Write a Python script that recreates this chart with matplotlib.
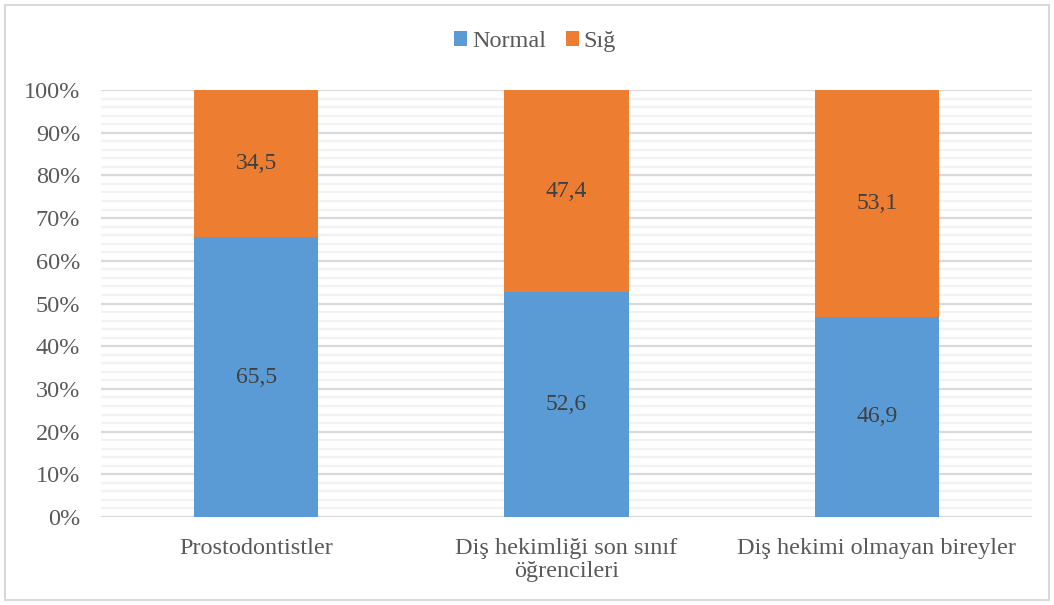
import matplotlib.pyplot as plt
from matplotlib.patches import Rectangle
from matplotlib.ticker import MultipleLocator, PercentFormatter

groups = ["Prostodontistler", "Diş hekimliği son sınıf\nöğrencileri", "Diş hekimi olmayan bireyler"]
normal = [65.5, 52.6, 46.9]
sig = [34.5, 47.4, 53.1]
series_names = ["Normal", "Sığ"]

blue = "#5B9BD5"
orange = "#ED7D31"
txt = "#595959"

plt.rcParams['font.family'] = ['Liberation Serif', 'DejaVu Serif']

fig = plt.figure(figsize=(10.54, 6.05), dpi=100)
ax = fig.add_axes([101/1054, 88/605, 931/1054, 427/605])

x = list(range(len(groups)))
b1 = ax.bar(x, normal, width=0.4, color=blue, label=series_names[0], zorder=3)
b2 = ax.bar(x, sig, width=0.4, bottom=normal, color=orange, label=series_names[1], zorder=3)

# value labels in the middle of each segment
for i in x:
    ax.text(i, normal[i] / 2, f"{normal[i]:.1f}".replace(".", ","), ha="center", va="center",
            fontsize=17, color="#404040", zorder=4)
    ax.text(i, normal[i] + sig[i] / 2, f"{sig[i]:.1f}".replace(".", ","), ha="center", va="center",
            fontsize=17, color="#404040", zorder=4)

ax.set_xlim(-0.5, 2.5)
ax.set_ylim(0, 100)
ax.yaxis.set_major_locator(MultipleLocator(10))
ax.yaxis.set_minor_locator(MultipleLocator(2))
ax.yaxis.set_major_formatter(PercentFormatter(decimals=0))
ax.grid(axis="y", which="major", color="#D9D9D9", linewidth=1.6, zorder=0)
ax.grid(axis="y", which="minor", color="#F2F2F2", linewidth=1.6, zorder=0)
ax.set_xticks(x)
ax.set_xticklabels(groups, linespacing=1.15)
ax.tick_params(axis="both", which="both", length=0, labelsize=17.5, labelcolor=txt)
ax.tick_params(axis="x", pad=15)
ax.tick_params(axis="y", pad=15)
for s in ax.spines.values():
    s.set_visible(False)

fig.legend(handles=[b1, b2], loc="upper center", bbox_to_anchor=(535/1054, 1 - 9/605), ncol=2,
           frameon=False, fontsize=17.5, labelcolor=txt, handlelength=0.55, handleheight=0.55,
           handletextpad=0.2, columnspacing=0.8)

fig.patches.append(Rectangle((5/1054, 5/605), 1044/1054, 595/605, transform=fig.transFigure,
                             fill=False, edgecolor="#D9D9D9", linewidth=1.5))

fig.savefig("out.png", dpi=100)
